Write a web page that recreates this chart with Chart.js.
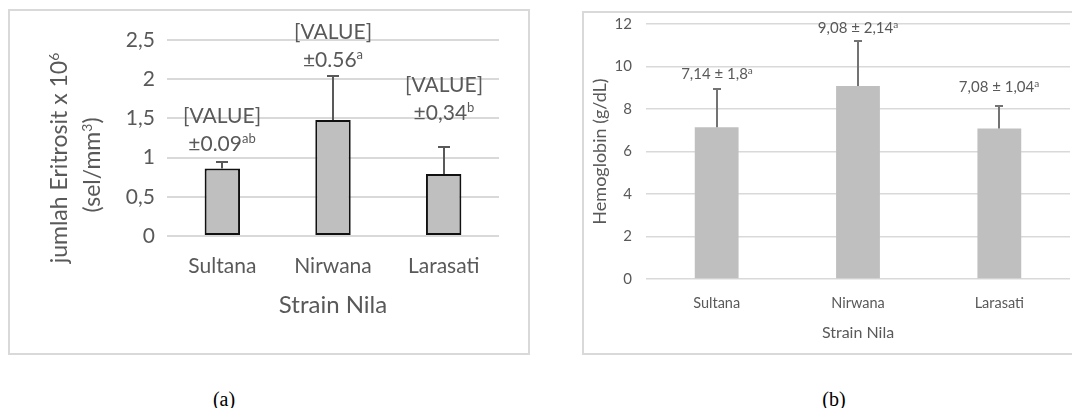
<!DOCTYPE html>
<html>
<head>
<meta charset="utf-8">
<script src="https://cdn.jsdelivr.net/npm/chart.js@4"></script>
<style>
  html, body { margin: 0; padding: 0; background: #fff; }
  body { width: 1072px; height: 408px; position: relative; overflow: hidden; }
  .box { position: absolute; border: 2px solid #d9d9d9; }
  canvas { position: absolute; top: 0; }
  .cap { position: absolute; top: 388px; font: 20px "Liberation Serif", serif; line-height: 22px; color: #000; transform: translateX(-50%); }
</style>
</head>
<body>
<div class="box" style="left:8px;top:9px;width:518px;height:342px"></div>
<div class="box" style="left:582px;top:11px;width:520px;height:340px"></div>
<canvas id="chartA" width="540" height="360" style="left:0"></canvas>
<canvas id="chartB" width="532" height="360" style="left:540px"></canvas>
<div class="cap" style="left:224px">(a)</div>
<div class="cap" style="left:834px">(b)</div>
<script>
// data
const strains = ['Sultana', 'Nirwana', 'Larasati'];

const eritrosit = [0.86, 1.48, 0.79];
const eritrositSD = [0.09, 0.56, 0.34];
const eritrositTicks = ['0', '0,5', '1', '1,5', '2', '2,5'];
const eritrositLabel = ['±0.09', '±0.56', '±0,34'];
const eritrositSup = ['ab', 'a', 'b'];

const hemoglobin = [7.14, 9.08, 7.08];
const hemoglobinSD = [1.8, 2.14, 1.04];
const hemoglobinTicks = ['0', '2', '4', '6', '8', '10', '12'];
const hemoglobinLabel = ['7,14 ± 1,8', '9,08 ± 2,14', '7,08 ± 1,04'];
const hemoglobinSup = ['a', 'a', 'a'];

const GREY_TEXT = '#595959';
const FONT = 'Lato';

// text made of parts, some of them superscript, centred on x
function drawRich(ctx, parts, x, y, size, supSize) {
  let total = 0;
  parts.forEach(p => {
    ctx.font = (p[1] ? supSize : size) + 'px ' + FONT;
    total += ctx.measureText(p[0]).width;
  });
  let cx = x - total / 2;
  const base = y + size * 0.36;
  ctx.textAlign = 'left';
  ctx.textBaseline = 'alphabetic';
  parts.forEach(p => {
    ctx.font = (p[1] ? supSize : size) + 'px ' + FONT;
    ctx.fillText(p[0], cx, p[1] ? base - size * 0.38 : base);
    cx += ctx.measureText(p[0]).width;
  });
}

const errLabels = {
  id: 'errLabels',
  afterDatasetsDraw(chart, args, o) {
    const ctx = chart.ctx;
    const ys = chart.scales.y;
    const meta = chart.getDatasetMeta(0);
    ctx.save();
    meta.data.forEach((bar, i) => {
      const v = o.values[i], e = o.errors[i];
      const top = Math.round(ys.getPixelForValue(v + e));
      const x = Math.round(bar.x);
      ctx.strokeStyle = o.errColor;
      ctx.lineWidth = 2;
      ctx.beginPath();
      ctx.moveTo(x, ys.getPixelForValue(v));
      ctx.lineTo(x, top);
      ctx.moveTo(x - o.capHalf, top);
      ctx.lineTo(x + o.capHalf, top);
      ctx.stroke();

      ctx.fillStyle = GREY_TEXT;
      const ly = top - o.lift[i];
      drawRich(ctx, [[o.text[i], false], [o.sup[i], true]], x, ly, o.size, o.supSize);
      if (o.firstLine) {
        drawRich(ctx, [[o.firstLine, false]], x, ly - o.lineGap, o.size, o.supSize);
      }
    });
    ctx.restore();
  }
};

// two-line rotated title of chart (a), with superscripts
const yTitleA = {
  id: 'yTitleA',
  afterDraw(chart) {
    const ctx = chart.ctx;
    ctx.save();
    ctx.fillStyle = GREY_TEXT;
    ctx.translate(59, 158);
    ctx.rotate(-Math.PI / 2);
    drawRich(ctx, [['jumlah Eritrosit x 10', false], ['6', true]], 0, 0, 23, 14);
    ctx.restore();
    ctx.save();
    ctx.fillStyle = GREY_TEXT;
    ctx.translate(92, 165);
    ctx.rotate(-Math.PI / 2);
    drawRich(ctx, [['(sel/mm', false], ['3', true], [')', false]], 0, 0, 23, 14);
    ctx.restore();
  }
};

function build() {
  new Chart(document.getElementById('chartA'), {
    type: 'bar',
    data: {
      labels: strains,
      datasets: [{
        data: eritrosit,
        backgroundColor: '#bfbfbf',
        borderColor: '#111111',
        borderWidth: 2,
        borderSkipped: false,
        barPercentage: 0.32,
        categoryPercentage: 1
      }]
    },
    options: {
      responsive: false,
      animation: false,
      events: [],
      layout: { padding: { top: 40, right: 41, left: 0, bottom: 0 } },
      plugins: {
        legend: { display: false },
        tooltip: { enabled: false },
        errLabels: {
          values: eritrosit, errors: eritrositSD,
          text: eritrositLabel, sup: eritrositSup, firstLine: '[VALUE]',
          lift: [19, 17, 35], lineGap: 28,
          size: 21, supSize: 13, errColor: '#595959', capHalf: 6
        }
      },
      scales: {
        x: {
          grid: { display: false, drawTicks: false },
          border: { display: false },
          ticks: { font: { family: FONT, size: 21 }, color: GREY_TEXT, padding: 18 },
          title: {
            display: true, text: 'Strain Nila', color: GREY_TEXT,
            font: { family: FONT, size: 24 }, padding: { top: 0, bottom: 40 }
          },
          afterFit(s) { s.height = 124; }
        },
        y: {
          min: 0, max: 2.5,
          ticks: {
            stepSize: 0.5, padding: 12, color: GREY_TEXT,
            font: { family: FONT, size: 21 },
            callback: (v, i) => eritrositTicks[i]
          },
          grid: { color: '#d9d9d9', lineWidth: 2, drawTicks: false },
          border: { display: false },
          afterFit(s) { s.width = 167; }
        }
      }
    },
    plugins: [errLabels, yTitleA]
  });

  new Chart(document.getElementById('chartB'), {
    type: 'bar',
    data: {
      labels: strains,
      datasets: [{
        data: hemoglobin,
        backgroundColor: '#bfbfbf',
        borderWidth: 0,
        barPercentage: 0.31,
        categoryPercentage: 1
      }]
    },
    options: {
      responsive: false,
      animation: false,
      events: [],
      layout: { padding: { top: 24, right: 2, left: 0, bottom: 0 } },
      plugins: {
        legend: { display: false },
        tooltip: { enabled: false },
        errLabels: {
          values: hemoglobin, errors: hemoglobinSD,
          text: hemoglobinLabel, sup: hemoglobinSup, firstLine: null,
          lift: [15, 13, 19], lineGap: 0,
          size: 15, supSize: 10, errColor: '#737373', capHalf: 4
        }
      },
      scales: {
        x: {
          grid: { display: false, drawTicks: false },
          border: { display: false },
          ticks: { font: { family: FONT, size: 14.5 }, color: GREY_TEXT, padding: 16 },
          title: {
            display: true, text: 'Strain Nila', color: GREY_TEXT,
            font: { family: FONT, size: 16 }, padding: { top: 0, bottom: 18 }
          },
          afterFit(s) { s.height = 81; }
        },
        y: {
          min: 0, max: 12,
          ticks: {
            stepSize: 2, padding: 14, color: GREY_TEXT,
            font: { family: FONT, size: 15 },
            callback: (v, i) => hemoglobinTicks[i]
          },
          grid: { color: '#d9d9d9', lineWidth: 1.5, drawTicks: false },
          border: { display: false },
          title: {
            display: true, text: 'Hemoglobin (g/dL)', color: GREY_TEXT,
            font: { family: FONT, size: 18 }, padding: { top: 49, bottom: 0 }
          },
          afterFit(s) { s.width = 106; }
        }
      }
    },
    plugins: [errLabels]
  });
}

if (document.fonts && document.fonts.load) {
  document.fonts.load('21px Lato').then(build, build);
} else {
  build();
}
</script>
</body>
</html>
